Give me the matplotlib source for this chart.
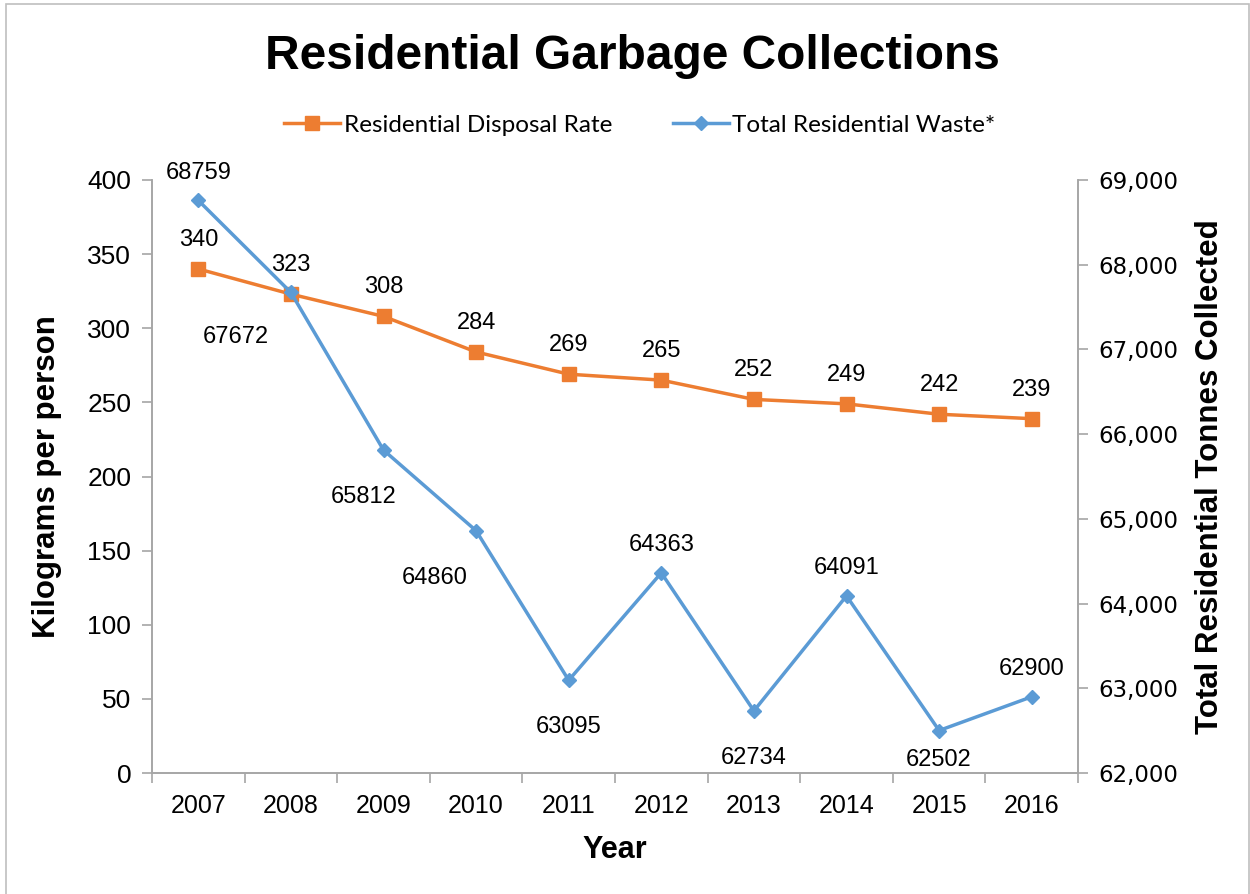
import numpy as np
import matplotlib.pyplot as plt
from matplotlib.patches import Rectangle

years = ["2007", "2008", "2009", "2010", "2011", "2012", "2013", "2014", "2015", "2016"]
disposal_rate = [340, 323, 308, 284, 269, 265, 252, 249, 242, 239]
total_waste = [68759, 67672, 65812, 64860, 63095, 64363, 62734, 64091, 62502, 62900]

# label offsets (points) for the blue series
waste_offsets = [(0, 12), (-40, -24), (-14, -26), (-30, -26), (0, -26),
                 (0, 12), (0, -26), (0, 12), (0, -13), (0, 12)]

orange = "#ED7D31"
blue = "#5B9BD5"
gray = "#A6A6A6"

fig = plt.figure(figsize=(12.5, 8.94), dpi=100)
fig.patches.append(Rectangle((0.005, -0.01), 0.994, 1.005, transform=fig.transFigure,
                             fill=False, edgecolor="#BFBFBF", linewidth=1.2))

ax = fig.add_axes([0.1216, 0.1353, 0.7408, 0.6634])
ax2 = ax.twinx()

x = np.arange(len(years))

ax.plot(x, disposal_rate, color=orange, lw=2.5, marker="s", ms=10,
        label="Residential Disposal Rate", zorder=3)
ax2.plot(x, total_waste, color=blue, lw=2.5, marker="D", ms=7,
         label="Total Residential Waste*", zorder=3)

for xi, v in zip(x, disposal_rate):
    ax.annotate(str(v), (xi, v), xytext=(0, 13), textcoords="offset points",
                ha="center", va="bottom", fontsize=17, family="Liberation Sans")
for xi, v, off in zip(x, total_waste, waste_offsets):
    ax2.annotate(str(v), (xi, v), xytext=off, textcoords="offset points",
                 ha="center", va="bottom" if off[1] > 0 else "top",
                 fontsize=17, family="Liberation Sans")

ax.set_xlim(-0.5, len(years) - 0.5)
ax.set_ylim(0, 400)
ax.set_yticks(np.arange(0, 401, 50))
ax2.set_ylim(62000, 69000)
ax2.set_yticks(np.arange(62000, 69001, 1000))
ax2.set_yticklabels([f"{v:,}" for v in range(62000, 69001, 1000)],
                    fontsize=16.5, family="DejaVu Sans")

ax.set_xticks(np.arange(-0.5, len(years), 1))
ax.set_xticklabels([])
ax.set_xticks(x, minor=True)
ax.set_xticklabels(years, minor=True, fontsize=18, family="Liberation Sans")
ax.tick_params(axis="x", which="minor", length=0, pad=15)
ax.tick_params(axis="x", which="major", length=7, color=gray, width=1.2)
ax.tick_params(axis="y", length=7, color=gray, width=1.2, labelsize=19, pad=8)
for lab in ax.get_yticklabels():
    lab.set_family("Liberation Sans")
ax2.tick_params(axis="y", length=7, color=gray, width=1.2, pad=8)

for a in (ax, ax2):
    a.spines["top"].set_visible(False)
    for s in ("left", "right", "bottom"):
        a.spines[s].set_color(gray)
        a.spines[s].set_linewidth(1.2)

ax.set_xlabel("Year", fontsize=22, fontweight="bold", family="Liberation Sans", labelpad=12)
ax.set_ylabel("Kilograms per person", fontsize=22.5, fontweight="bold",
              family="Liberation Sans", labelpad=18)
ax2.set_ylabel("Total Residential Tonnes Collected", fontsize=22.5, fontweight="bold",
               family="Liberation Sans", labelpad=12)

fig.text(0.506, 0.937, "Residential Garbage Collections", ha="center", va="center",
         fontsize=34.5, fontweight="bold", family="Liberation Sans")

h1, l1 = ax.get_legend_handles_labels()
h2, l2 = ax2.get_legend_handles_labels()
fig.legend(h1 + h2, l1 + l2, loc="center", bbox_to_anchor=(0.512, 0.86), ncol=2,
           frameon=False, prop={"family": "Lato", "size": 17.5}, columnspacing=2.5,
           handlelength=2.3, handletextpad=0.15)

fig.savefig("out.png", dpi=100)
